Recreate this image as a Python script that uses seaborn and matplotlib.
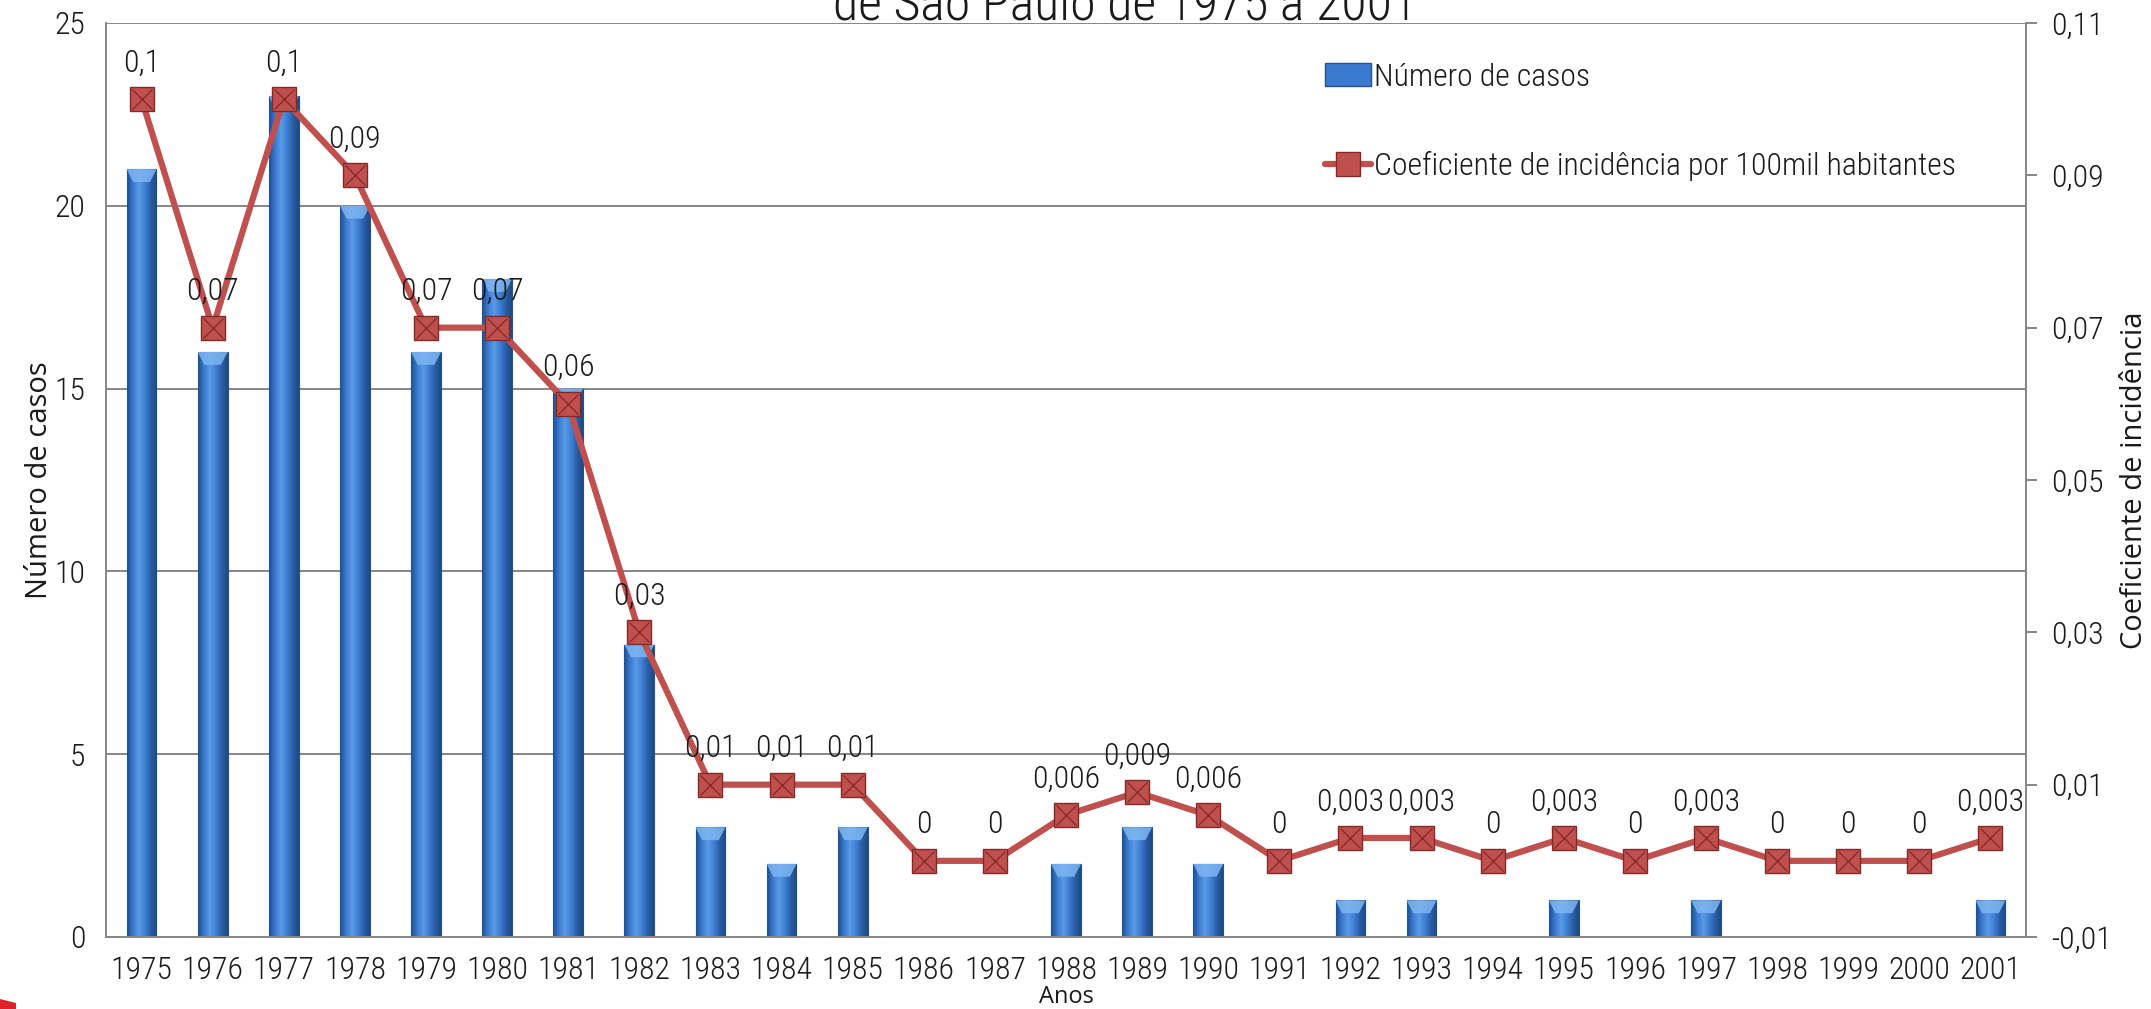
import numpy as np
import pandas as pd
import matplotlib
matplotlib.use("Agg")
import matplotlib.pyplot as plt
import seaborn as sns
from matplotlib import font_manager
from matplotlib.font_manager import FontProperties
from matplotlib.textpath import TextPath
from matplotlib.patches import Patch, Polygon
from matplotlib.lines import Line2D
from matplotlib.ticker import FixedLocator, FuncFormatter
from matplotlib.colors import LinearSegmentedColormap

# ---------------- data ----------------
anos = ["1975", "1976", "1977", "1978", "1979", "1980", "1981", "1982", "1983",
        "1984", "1985", "1986", "1987", "1988", "1989", "1990", "1991", "1992",
        "1993", "1994", "1995", "1996", "1997", "1998", "1999", "2000", "2001"]
casos = [21, 16, 23, 20, 16, 18, 15, 8, 3, 2, 3, 0, 0, 2, 3, 2, 0, 1, 1, 0, 1,
         0, 1, 0, 0, 0, 1]
coeficiente = [0.1, 0.07, 0.1, 0.09, 0.07, 0.07, 0.06, 0.03, 0.01, 0.01, 0.01,
               0, 0, 0.006, 0.009, 0.006, 0, 0.003, 0.003, 0, 0.003, 0, 0.003,
               0, 0, 0, 0.003]
ticks_direita = [-0.01, 0.01, 0.03, 0.05, 0.07, 0.09, 0.11]
ticks_esquerda = [0, 5, 10, 15, 20, 25]

titulo = "de São Paulo de 1975 a 2001"
serie_barras = "Número de casos"
serie_linha = "Coeficiente de incidência por 100mil habitantes"

df = pd.DataFrame({"ano": anos, "casos": casos, "coef": coeficiente})

sns.set_theme(style="white")

# ---------------- choose a narrow font similar to the reference ----------------
def _w(s, prop):
    return TextPath((0, 0), s, size=10, prop=prop).get_extents().width

best, best_score = None, None
for f in font_manager.fontManager.ttflist:
    n = f.name
    if any(k in n for k in ("CJK", "Mono", "Math", "Serif", "Display")):
        continue
    if not any(n.startswith(k) for k in ("DejaVu", "Liberation", "Noto Sans", "Roboto",
                                         "Open Sans", "Lato", "Inter")):
        continue
    if f.style != "normal":
        continue
    try:
        wt = int(f.weight)
    except Exception:
        wt = 400 if f.weight in ("normal", "regular", "book") else 700
    if wt < 300 or wt > 400:
        continue
    try:
        p = FontProperties(fname=f.fname)
        ratio = _w(serie_linha, p) / TextPath((0, 0), "H", size=10, prop=p).get_extents().height
    except Exception:
        continue
    score = abs(ratio - 23.5)
    if best_score is None or score < best_score:
        best, best_score = f.fname, score

NARROW = FontProperties(fname=best) if best else FontProperties(family="DejaVu Sans")
# size so that legend label width matches the reference (~579 px)
SZ = 10 * (579 * 72 / 100) / _w(serie_linha, NARROW)
SZ_T = 10 * (573 * 72 / 100) / _w(titulo, NARROW)

def fp(size):
    p = NARROW.copy()
    p.set_size(size)
    return p

plain = "Open Sans"
plt.rcParams["font.family"] = [plain, "DejaVu Sans"]
TXT = "#1a1a1a"
GRID = "#868686"
BLUE = "#3b7bcf"
RED = "#c0504d"

fig = plt.figure(figsize=(21.51, 10.09), dpi=100)
ax = fig.add_axes([106 / 2151, 1 - 937 / 1009, (2026 - 106) / 2151, (937 - 23) / 1009])

sns.barplot(data=df, x="ano", y="casos", ax=ax, color=BLUE, width=0.42,
            edgecolor="#24508c", linewidth=0.8, saturation=1, zorder=2)

# gradient shading on bars
cmap = LinearSegmentedColormap.from_list(
    "bev", ["#1f4f8f", "#3a7bd0", "#5a9ae6", "#3f80d4", "#2a5fa6", "#1d4a86"])
grad = np.linspace(0, 1, 64).reshape(1, -1)
xl, yl = (-0.5, len(anos) - 0.5), (0, 25)
for p in list(ax.patches):
    x0, w, h = p.get_x(), p.get_width(), p.get_height()
    if h <= 0:
        continue
    im = ax.imshow(grad, cmap=cmap, aspect="auto", extent=(x0, x0 + w, 0, h),
                   zorder=2.1, interpolation="bilinear")
    im.set_clip_path(p)
    cap = min(0.35, h)
    ax.add_patch(Polygon([[x0, h], [x0 + w, h], [x0 + w * 0.78, h - cap],
                          [x0 + w * 0.22, h - cap]], closed=True,
                         facecolor="#7fb6f2", edgecolor="none", alpha=0.85, zorder=2.2))
ax.set_xlim(*xl)
ax.set_ylim(*yl)

ax.yaxis.set_major_locator(FixedLocator(ticks_esquerda))
ax.grid(axis="y", color=GRID, linewidth=1.4, zorder=0)
ax.set_axisbelow(True)
for s in ["left", "bottom", "right", "top"]:
    ax.spines[s].set_color(GRID)
    ax.spines[s].set_linewidth(1.4)
ax.spines["top"].set_visible(False)
ax.tick_params(axis="y", colors=TXT, length=0, pad=15)
ax.tick_params(axis="x", colors=TXT, length=0, pad=14)
for lbl in ax.get_xticklabels() + ax.get_yticklabels():
    lbl.set_fontproperties(fp(SZ))
ax.set_xlabel("Anos", fontsize=17, color=TXT)
ax.set_ylabel("Número de casos", fontsize=21, color=TXT)
ax.xaxis.set_label_coords(0.5, -0.053)
ax.yaxis.set_label_coords(-0.027, 0.5)

# ---------------- secondary axis ----------------
ax2 = ax.twinx()
sns.pointplot(data=df, x="ano", y="coef", ax=ax2, color=RED, markers="s",
              markersize=17, linewidth=4.5, markeredgecolor="#7f2a28",
              markeredgewidth=1.0, errorbar=None, zorder=4)
ln = ax2.lines[0]
ax2.plot(ln.get_xdata(), ln.get_ydata(), linestyle="none", marker="x",
         markersize=15, markeredgecolor="#8a2b29", markeredgewidth=1.0, zorder=5)
ax2.set_ylim(ticks_direita[0], ticks_direita[-1])
ax2.set_xlim(*xl)
ax2.yaxis.set_major_locator(FixedLocator(ticks_direita))
ax2.yaxis.set_major_formatter(FuncFormatter(lambda v, _: f"{v:.2f}".replace(".", ",")))
ax2.tick_params(axis="y", colors=TXT, length=8, width=1.4, color=GRID, pad=10)
for lbl in ax2.get_yticklabels():
    lbl.set_fontproperties(fp(SZ))
ax2.grid(False)
for s in ax2.spines.values():
    s.set_visible(False)
ax2.set_xlabel("")
ax2.set_ylabel("Coeficiente de incidência", fontsize=21, color=TXT)
ax2.yaxis.set_label_coords(1.049, 0.5)

for xv, yv in zip(ln.get_xdata(), ln.get_ydata()):
    ax2.annotate(f"{yv:g}".replace(".", ","), (xv, yv), xytext=(0, 26),
                 textcoords="offset points", ha="center", va="center",
                 fontproperties=fp(SZ), color=TXT, zorder=6)

ax.set_zorder(1)
ax2.set_zorder(2)
ax2.patch.set_visible(False)

# ---------------- legend ----------------
handles = [Patch(facecolor=BLUE, edgecolor="#24508c"),
           Line2D([0], [0], color=RED, linewidth=4.5, marker="s", markersize=17,
                  markerfacecolor=RED, markeredgecolor="#7f2a28")]
leg = fig.legend(handles, [serie_barras, serie_linha], loc="upper left",
                 bbox_to_anchor=(1312 / 2151, 1 - 50 / 1009), frameon=False,
                 prop=fp(SZ), labelspacing=1.88, handlelength=1.45, handletextpad=0.1,
                 borderaxespad=0, labelcolor=TXT)

# ---------------- title (cut at top as in reference) ----------------
fig.text(1125 / 2151, 1 - 20 / 1009, titulo, ha="center", va="baseline",
         fontproperties=fp(SZ_T), color=TXT)

# small red decoration at bottom-left corner
fig.add_artist(Polygon([[0, 0], [16 / 2151, 0], [16 / 2151, 6 / 1009], [0, 10 / 1009]],
                       closed=True, transform=fig.transFigure,
                       facecolor="#e0202a", edgecolor="none"))

fig.savefig("out.png", dpi=100)
